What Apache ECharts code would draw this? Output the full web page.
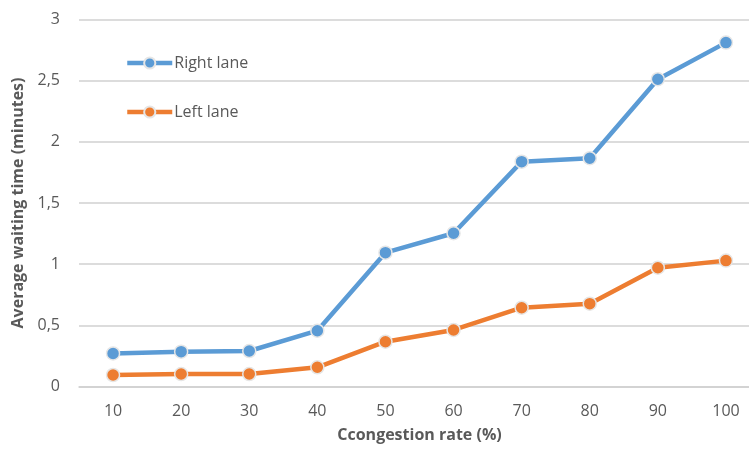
<!DOCTYPE html>
<html><head><meta charset="utf-8">
<script src="https://cdn.jsdelivr.net/npm/echarts@6/dist/echarts.min.js"></script>
<style>html,body{margin:0;padding:0;background:#fff}#c{width:749px;height:450px}</style>
</head><body><div id="c"></div>
<script>
const categories = ['10','20','30','40','50','60','70','80','90','100'];
const rightLane = [0.27, 0.285, 0.29, 0.456, 1.094, 1.253, 1.838, 1.866, 2.512, 2.811];
const leftLane = [0.094, 0.102, 0.102, 0.157, 0.366, 0.462, 0.644, 0.677, 0.971, 1.029];
const seriesNames = ['Right lane', 'Left lane'];
const colors = ['#5B9BD5', '#ED7D31'];
const font = '"Open Sans", "Liberation Sans", sans-serif';

const chart = echarts.init(document.getElementById('c'), null, {renderer: 'canvas'});
function mk(name, data, color) {
  return {
    name, type: 'line', data,
    symbol: 'circle', symbolSize: 13,
    lineStyle: {color, width: 4.5},
    itemStyle: {color, borderColor: '#e6e6e6', borderWidth: 1.5},
    emphasis: {disabled: true},
    z: name === 'Right lane' ? 3 : 2
  };
}
chart.setOption({
  animation: false,
  backgroundColor: '#fff',
  grid: {left: 79, top: 19.5, width: 681, height: 367, containLabel: false, outerBoundsMode: 'none'},
  legend: {
    orient: 'vertical', left: 120, top: 50, itemGap: 33,
    itemWidth: 45, itemHeight: 14,
    lineStyle: {width: 4.5},
    textStyle: {fontFamily: font, fontSize: 16, color: '#595959', padding: [0,0,0,-3]},
    data: seriesNames
  },
  xAxis: {
    type: 'category', data: categories, boundaryGap: true,
    name: 'Ccongestion rate (%)', nameLocation: 'middle', nameGap: 41,
    nameTextStyle: {fontFamily: font, fontSize: 16, fontWeight: 'bold', color: '#595959'},
    axisLine: {show: true, lineStyle: {color: '#d0d0d0', width: 1.5}},
    axisTick: {show: false},
    axisLabel: {fontFamily: font, fontSize: 16, color: '#595959', margin: 17}
  },
  yAxis: {
    type: 'value', min: 0, max: 3, interval: 0.5,
    name: 'Average waiting time (minutes)', nameLocation: 'middle', nameGap: 52,
    nameTextStyle: {fontFamily: font, fontSize: 16, fontWeight: 'bold', color: '#595959'},
    axisLine: {show: false}, axisTick: {show: false},
    splitLine: {lineStyle: {color: '#d0d0d0', width: 1.5}},
    axisLabel: {fontFamily: font, fontSize: 16, color: '#595959', margin: 19,
      formatter: v => String(v).replace('.', ',')}
  },
  series: [mk(seriesNames[0], rightLane, colors[0]), mk(seriesNames[1], leftLane, colors[1])]
});
</script></body></html>
